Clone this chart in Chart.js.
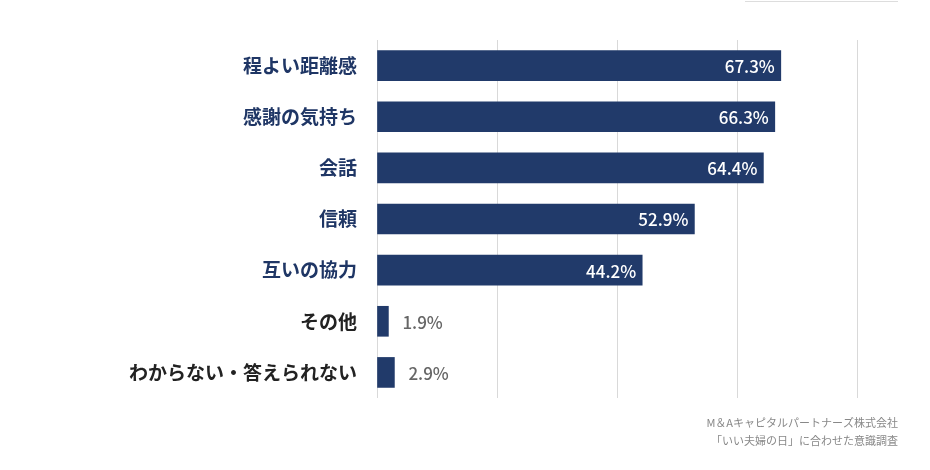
<!DOCTYPE html>
<html><head><meta charset="utf-8">
<script src="https://cdn.jsdelivr.net/npm/chart.js@4"></script>
<style>html,body{margin:0;background:#fff}#wrap{width:930px;height:470px}</style>
</head><body><div id="wrap"><canvas id="c"></canvas></div>
<script>
const categories = ['程よい距離感','感謝の気持ち','会話','信頼','互いの協力','その他','わからない・答えられない'];
const values = [67.3, 66.3, 64.4, 52.9, 44.2, 1.9, 2.9];
const labelColours = ['#1f3665','#1f3665','#1f3665','#1f3665','#1f3665','#222','#222'];
const sourceLines = ['M＆Aキャピタルパートナーズ株式会社','「いい夫婦の日」に合わせた意識調査'];
const FONT = '"Noto Sans CJK JP","Noto Sans",sans-serif';

const extras = {
	id:'extras',
	afterDatasetsDraw(chart){
		const ctx = chart.ctx, meta = chart.getDatasetMeta(0);
		ctx.save();
		ctx.font = '500 17px ' + FONT;
		ctx.textBaseline = 'middle';
		meta.data.forEach((bar,i)=>{
			const txt = values[i].toFixed(1)+'%';
			if(values[i] > 10){
				ctx.fillStyle = '#fff'; ctx.textAlign = 'right';
				ctx.fillText(txt, bar.x-6, bar.y+1);
			}else{
				ctx.fillStyle = '#666'; ctx.textAlign = 'left';
				ctx.fillText(txt, bar.x+14, bar.y+1);
			}
		});
		// source note
		ctx.font = '11px ' + FONT; ctx.fillStyle = '#888'; ctx.textAlign = 'right';
		ctx.fillText(sourceLines[0], 898, 423);
		ctx.fillText(sourceLines[1], 898, 441);
		// thin line top right
		ctx.strokeStyle = '#ddd'; ctx.lineWidth = 1;
		ctx.beginPath(); ctx.moveTo(745,1.5); ctx.lineTo(898,1.5); ctx.stroke();
		ctx.restore();
	}
};

new Chart(document.getElementById('c'),{
	type:'bar',
	data:{labels:categories,datasets:[{data:values,backgroundColor:'#213a6a',barThickness:30}]},
	options:{
		indexAxis:'y', responsive:true, maintainAspectRatio:false, animation:false,
		layout:{padding:{top:40,bottom:72,right:73,left:0}},
		plugins:{legend:{display:false},tooltip:{enabled:false}},
		scales:{
			x:{min:0,max:80,ticks:{display:false,stepSize:20},
				grid:{color:'#d9d9d9',drawTicks:false},border:{display:false}},
			y:{afterFit(s){s.width=377;},
				grid:{display:false,drawTicks:false},border:{display:false},
				ticks:{padding:20,color:c=>labelColours[c.index],font:{size:19,weight:'bold',family:FONT}}}
		}
	},
	plugins:[extras]
});
</script></body></html>
